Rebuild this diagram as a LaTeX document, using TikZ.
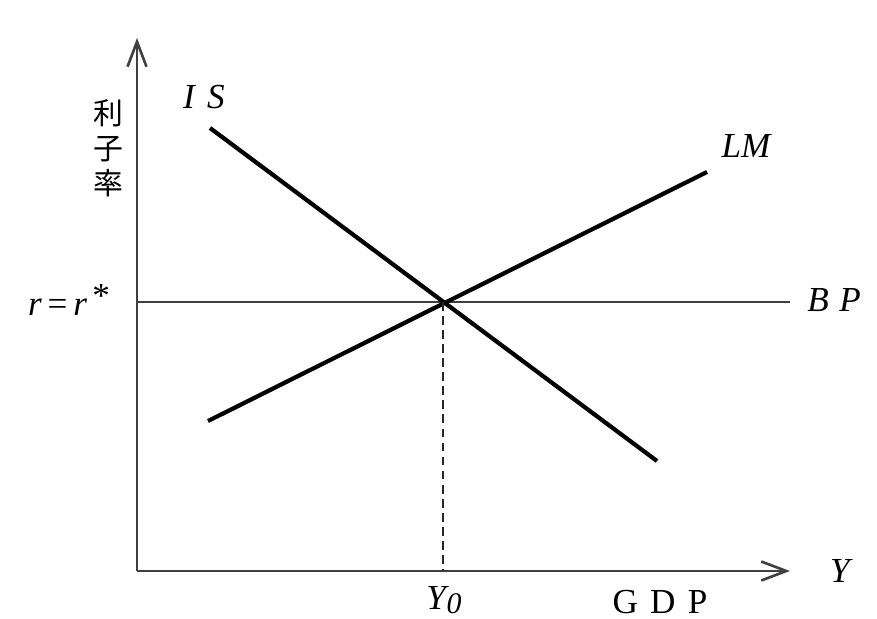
\documentclass[tikz,border=0pt]{standalone}
\usepackage{fontspec}
\setmainfont{Liberation Serif}
\newfontfamily\cjk{Noto Sans CJK JP}
\usetikzlibrary{arrows.meta, positioning}

\begin{document}
\begin{tikzpicture}[
  x=0.02cm, y=-0.02cm,
  axis/.style={-{Straight Barb[length=0.5cm, width=0.38cm]}, line width=1.5pt, black!75},
  curve/.style={line width=2.4pt, black},
  level/.style={line width=1.2pt, black!75},
  guide/.style={dash pattern=on 5pt off 3pt, line width=1.1pt, black!85},
  lbl/.style={font=\fontsize{20}{23}\selectfont\itshape, inner sep=0pt},
  ann/.style={font=\fontsize{20}{23}\selectfont, inner sep=0pt}
]
\useasboundingbox (0,0) rectangle (877,619);

% axes
\coordinate (O)    at (137,571);
\coordinate (ytop) at (137,38);
\coordinate (xend) at (790,571);
\draw[axis] (O) -- (ytop);
\draw[axis] (O) -- (xend);

% curves
\coordinate (E)   at (443,302);
\coordinate (bpL) at (137,302);
\coordinate (bpR) at (790,302);
\coordinate (is1) at (210,128);
\coordinate (is2) at (657,461);
\coordinate (lm1) at (208,421);
\coordinate (lm2) at (707,172);
\coordinate (Y0)  at (443,571);

\draw[level] (bpL) -- (bpR);
\draw[curve] (is1) -- (is2);
\draw[curve] (lm1) -- (lm2);
\draw[guide] (E) -- (Y0);

% labels
\node[lbl] (islab)  at (204,97)  {I\hspace{0.35em}S};
\node[lbl] (lmlab)  at (746,146) {LM};
\node[lbl] (bplab)  at (834,300) {B\hspace{0.3em}P};
\node[lbl] (rlab)   at (69,300)  {r\,\upshape=\,\itshape r\hspace{0.15em}\raisebox{0.55ex}{\upshape *}};
\node[lbl] (ylab)   at (840,571) {Y};
\node[lbl] (y0lab)  at (444,600) {Y\kern0.5pt\raisebox{-0.25ex}{\fontsize{17}{20}\selectfont 0}};
\node[ann] (gdplab) at (660,602) {G\hspace{0.35em}D\hspace{0.35em}P};
\node[font=\cjk\fontsize{17}{20}\selectfont, align=center, inner sep=0pt]
  (rate) at (108,148) {利\\子\\率};
\end{tikzpicture}
\end{document}
